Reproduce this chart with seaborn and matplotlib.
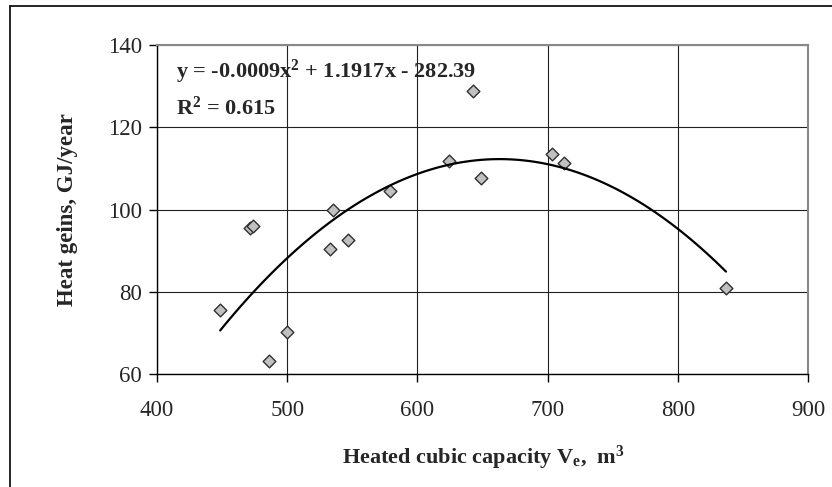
import matplotlib
matplotlib.use("Agg")
import matplotlib.pyplot as plt
from matplotlib.lines import Line2D
import seaborn as sns
import numpy as np

# Data
volume = [448.5, 471.5, 474.0, 486.0, 499.7, 533.0, 535.0, 547.0, 578.7,
          624.0, 642.6, 648.5, 703.6, 712.5, 837.0]
heat_gains = [75.5, 95.6, 96.0, 63.1, 70.2, 90.5, 99.8, 92.6, 104.6,
              111.9, 128.9, 107.6, 113.5, 111.4, 81.0]
x_ticks = [400, 500, 600, 700, 800, 900]
y_ticks = [60, 80, 100, 120, 140]
equation_text = "y = -0.0009x$^{2}$ + 1.1917x - 282.39"
r2_text = "R$^{2}$ = 0.615"
xlabel_text = "Heated cubic capacity V$_{e}$,  m$^{3}$"
ylabel_text = "Heat geins, GJ/year"

sns.set_style("white")
plt.rcParams['font.family'] = ['Liberation Serif', 'DejaVu Serif']
plt.rcParams['mathtext.fontset'] = 'custom'
plt.rcParams['mathtext.rm'] = 'Liberation Serif:bold'
plt.rcParams['mathtext.it'] = 'Liberation Serif:bold'
plt.rcParams['mathtext.bf'] = 'Liberation Serif:bold'

fig = plt.figure(figsize=(8.32, 4.87), dpi=100)
W, H = 832, 487
left, right, top, bottom = 157, 808, 45, 374
ax = fig.add_axes([left / W, 1 - bottom / H, (right - left) / W, (bottom - top) / H])

sns.regplot(x=volume, y=heat_gains, order=2, ci=None, truncate=True, ax=ax,
            marker='D',
            scatter_kws=dict(s=42, color='#c0c0c0', edgecolors='#303030',
                             linewidths=1.0, zorder=3, alpha=1),
            line_kws=dict(color='black', linewidth=1.6, zorder=4))

ax.set_xlim(400, 900)
ax.set_ylim(60, 140)
ax.set_xticks(x_ticks)
ax.set_yticks(y_ticks)
ax.grid(True, color='#202020', linewidth=0.8)
ax.set_axisbelow(True)

for s in ['left', 'bottom']:
    ax.spines[s].set_color('black')
    ax.spines[s].set_linewidth(1.0)
for s in ['top', 'right']:
    ax.spines[s].set_color('#888888')
    ax.spines[s].set_linewidth(1.5)

ax.tick_params(axis='both', direction='out', length=6, width=1, color='black',
               labelsize=16.5, pad=5, bottom=True, left=True)
ax.tick_params(axis='x', pad=13)

ax.set_xlabel(xlabel_text, fontsize=16, fontweight='bold')
ax.set_ylabel(ylabel_text, fontsize=16.5, fontweight='bold')
ax.xaxis.label.set_va('center')
ax.yaxis.label.set_va('center')
ax.xaxis.set_label_coords(0.502, -0.255)
ax.yaxis.set_label_coords(-0.138, 0.5)

ax.text(0.029, 0.9006, equation_text, transform=ax.transAxes, fontsize=16,
        fontweight='bold', va='baseline', ha='left')
ax.text(0.029, 0.787, r2_text, transform=ax.transAxes, fontsize=16,
        fontweight='bold', va='baseline', ha='left')

# Outer chart frame (left and top edges visible)
fig.add_artist(Line2D([10 / W, 10 / W], [0, 1 - 6 / H], color='black', linewidth=1.2,
                      transform=fig.transFigure))
fig.add_artist(Line2D([10 / W, 1], [1 - 6 / H, 1 - 6 / H], color='black', linewidth=1.2,
                      transform=fig.transFigure))

fig.savefig("out.png", dpi=100)
